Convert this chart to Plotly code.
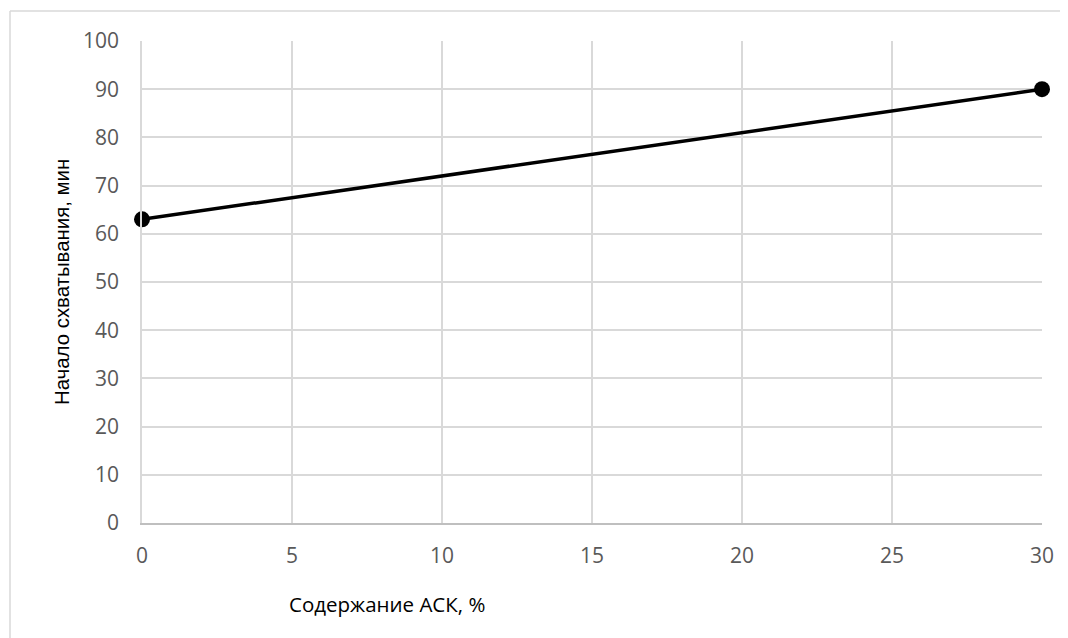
import plotly.graph_objects as go

ask_content = [0, 30]
setting_start = [63, 90]
x_ticks = [0, 5, 10, 15, 20, 25, 30]
y_ticks = [0, 10, 20, 30, 40, 50, 60, 70, 80, 90, 100]

fig = go.Figure()
fig.add_trace(go.Scatter(
    x=ask_content, y=setting_start, mode="lines+markers",
    line=dict(color="black", width=3.5),
    marker=dict(color="black", size=16),
    showlegend=False, cliponaxis=False,
))

tickfont = dict(family="Open Sans, Noto Sans, sans-serif", size=21, color="#595959")
fig.update_layout(
    width=1060, height=630,
    margin=dict(l=134, r=26, t=33, b=115),
    paper_bgcolor="white", plot_bgcolor="white",
    xaxis=dict(range=[0, 30], tickvals=x_ticks, showgrid=True, gridcolor="#d9d9d9", gridwidth=1.5,
               showline=True, linecolor="#bfbfbf", linewidth=2, zeroline=False,
               tickfont=tickfont, ticks="", ticklabelstandoff=13),
    yaxis=dict(range=[0, 100], tickvals=y_ticks, showgrid=True, gridcolor="#d9d9d9", gridwidth=1.5,
               showline=True, linecolor="#d9d9d9", linewidth=1.5, zeroline=False,
               tickfont=tickfont, ticks="", ticklabelstandoff=17),
    annotations=[
        dict(text="Содержание АСК, %", xref="paper", yref="paper",
             x=(387 - 142) / 900, y=-(604 - 523) / 482, xanchor="center", yanchor="middle",
             showarrow=False, font=dict(family="Open Sans, Noto Sans, sans-serif", size=20.5, color="black")),
        dict(text="Начало схватывания, мин", xref="paper", yref="paper",
             x=-(142 - 62) / 900, y=0.5, xanchor="center", yanchor="middle", textangle=-90,
             showarrow=False, font=dict(family="Liberation Sans, Arial, sans-serif", size=20.4, color="black")),
    ],
    shapes=[
        dict(type="line", xref="paper", yref="paper", x0=(10 - 142) / 900, x1=(10 - 142) / 900,
             y0=(523 - 11) / 482, y1=-0.3, line=dict(color="#d9d9d9", width=1.5)),
        dict(type="line", xref="paper", yref="paper", x0=(10 - 142) / 900, x1=1.1,
             y0=(523 - 11) / 482, y1=(523 - 11) / 482, line=dict(color="#d9d9d9", width=1.5)),
    ],
)

fig.write_html("out.html")
